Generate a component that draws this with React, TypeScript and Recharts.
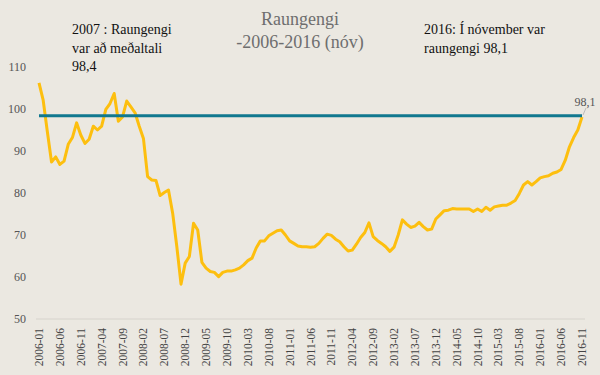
import { LineChart, Line, XAxis, YAxis, ReferenceLine } from "recharts";

const years = ["2006", "2007", "2008", "2009", "2010", "2011", "2012", "2013", "2014", "2015", "2016"];
const monthNums = ["01", "02", "03", "04", "05", "06", "07", "08", "09", "10", "11", "12"];
const lastMonth = "2016-11";

// raungengi, monthly index
const raungengi = [
  106.2, 102.1, 94.6, 87.4, 88.6, 86.8, 87.6, 91.6, 93.2, 96.7, 93.8, 91.8,
  92.8, 95.9, 95.0, 95.9, 99.9, 101.3, 103.7, 97.1, 98.1, 101.9, 100.5, 99.1,
  95.9, 93.0, 83.9, 83.1, 83.0, 79.4, 80.1, 80.7, 75.2, 67.2, 58.3, 63.3,
  64.9, 72.8, 71.2, 63.5, 62.1, 61.3, 61.1, 60.1, 61.1, 61.4, 61.4, 61.7,
  62.1, 62.9, 63.9, 64.5, 66.9, 68.6, 68.6, 69.8, 70.4, 71.0, 71.2, 70.0,
  68.6, 68.0, 67.4, 67.2, 67.2, 67.1, 67.2, 68.0, 69.2, 70.2, 69.9, 69.0,
  68.4, 67.2, 66.2, 66.4, 67.8, 69.4, 70.6, 72.9, 69.6, 68.7, 68.0, 67.2,
  66.1, 67.1, 70.0, 73.6, 72.6, 71.8, 72.1, 73.0, 72.0, 71.2, 71.4, 73.8,
  74.8, 75.8, 75.9, 76.3, 76.2, 76.2, 76.2, 76.2, 75.6, 76.2, 75.6, 76.6,
  75.9, 76.7, 76.9, 77.1, 77.1, 77.6, 78.2, 79.9, 81.9, 82.7, 81.9, 82.7,
  83.6, 83.9, 84.1, 84.7, 85.0, 85.6, 87.8, 91.0, 93.2, 95.0, 98.1,
];

const avg2007 = 98.4;
const yTicks = [50, 60, 70, 80, 90, 100, 110];

const months: string[] = [];
for (const y of years) {
  for (const m of monthNums) {
    const key = `${y}-${m}`;
    if (months.length && months[months.length - 1] === lastMonth) break;
    months.push(key);
  }
}

const data = months.map((month, i) => ({ month, value: raungengi[i] }));

const FONT = "'Liberation Serif', 'DejaVu Serif', serif";
const BG = "#ebe8e1";

function MonthTick({ x, y, payload }: { x?: number; y?: number; payload?: { value: string } }) {
  const ty = (y ?? 0) + 9;
  return (
    <text
      x={x}
      y={ty}
      transform={`rotate(-90, ${x}, ${ty})`}
      textAnchor="end"
      dy="0.35em"
      fill="#444"
      fontSize={11.5}
      fontFamily={FONT}
    >
      {payload?.value}
    </text>
  );
}

function EndLabel(props: { x?: number; y?: number; index?: number; value?: number }) {
  const { x = 0, y = 0, index, value } = props;
  if (index !== data.length - 1 || value == null) return null;
  return (
    <g>
      <line x1={x + 1} y1={y - 2} x2={x + 4} y2={y - 9} stroke="#bbb" strokeWidth={1} />
      <text x={x + 3} y={y - 11} textAnchor="middle" fill="#555" fontSize={12} fontFamily={FONT}>
        {String(value).replace(".", ",")}
      </text>
    </g>
  );
}

export default function App() {
  return (
    <div style={{ position: "absolute", left: 0, top: 0, width: 600, height: 375, background: BG, fontFamily: FONT }}>
      <LineChart width={600} height={375} data={data} margin={{ top: 67, right: 15, bottom: 0, left: 0 }}>
        <XAxis
          dataKey="month"
          interval={4}
          height={56}
          padding={{ left: 3, right: 3 }}
          axisLine={{ stroke: "#d6d3cc" }}
          tickLine={false}
          tickSize={0}
          tickMargin={0}
          tick={<MonthTick />}
        />
        <YAxis
          domain={[50, 110]}
          ticks={yTicks}
          width={36}
          axisLine={false}
          tickLine={false}
          tickMargin={4}
          tick={{ fill: "#555", fontSize: 12, fontFamily: FONT }}
        />
        <Line
          type="linear"
          dataKey="value"
          stroke="#fdbf0f"
          strokeWidth={3}
          dot={false}
          strokeLinejoin="round"
          isAnimationActive={false}
          label={<EndLabel />}
        />
        <ReferenceLine
          segment={[
            { x: months[0], y: avg2007 },
            { x: months[months.length - 1], y: avg2007 },
          ]}
          stroke="#11788f"
          strokeWidth={3}
        />
      </LineChart>

      <div style={{ position: "absolute", left: 0, width: 600, top: 8, textAlign: "center", color: "#6e6e6e", fontSize: 18, lineHeight: "23px" }}>
        <div style={{ marginLeft: 0 }}>Raungengi</div>
        <div>-2006-2016 (nóv)</div>
      </div>
      <div style={{ position: "absolute", left: 72, top: 21, color: "#111", fontSize: 14, lineHeight: "18.5px" }}>
        <div>2007 : Raungengi</div>
        <div>var að meðaltali</div>
        <div>98,4</div>
      </div>
      <div style={{ position: "absolute", left: 424, top: 21, color: "#111", fontSize: 14, lineHeight: "18.5px" }}>
        <div>2016: Í nóvember var</div>
        <div>raungengi 98,1</div>
      </div>
    </div>
  );
}
